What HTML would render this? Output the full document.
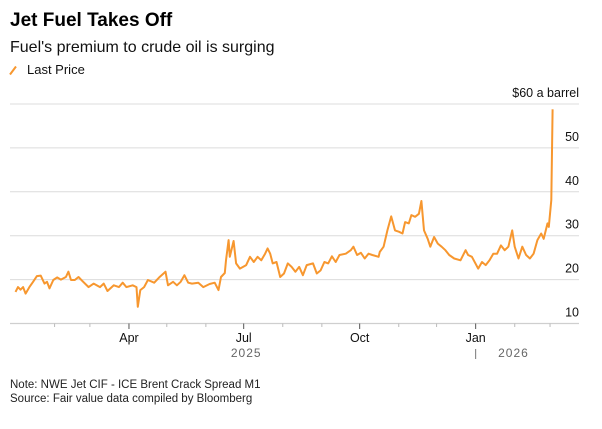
<!DOCTYPE html>
<html><head><meta charset="utf-8"><style>
html,body{margin:0;padding:0;background:#fff;}
body{width:602px;height:424px;overflow:hidden;font-family:"Liberation Sans",sans-serif;}
</style></head><body>
<svg width="602" height="424" viewBox="0 0 602 424" xmlns="http://www.w3.org/2000/svg" font-family="Liberation Sans, sans-serif">
<text x="10" y="26" font-size="19" font-weight="bold" fill="#000">Jet Fuel Takes Off</text>
<text x="10" y="52" font-size="16" fill="#111">Fuel's premium to crude oil is surging</text>
<line x1="10" y1="74.5" x2="16" y2="66.5" stroke="#f7972f" stroke-width="2"/>
<text x="27" y="74" font-size="13" fill="#111">Last Price</text>
<text x="579" y="97" font-size="12.5" text-anchor="end" fill="#111">$60 a barrel</text>
<g id="grid"></g>
<g id="axis"></g>
<path id="line" fill="none" stroke="#f7972f" stroke-width="2" stroke-linejoin="round"/>
<text x="10" y="388" font-size="11.5" fill="#222">Note: NWE Jet CIF - ICE Brent Crack Spread M1</text>
<text x="10" y="402" font-size="11.5" fill="#222">Source: Fair value data compiled by Bloomberg</text>
</svg>
<script>
const yTicks=[10,20,30,40,50,60];
const monthTicks=[31,59,90,120,151,181,212,243,273,304,334,365,396,424];
const majorTicks=[90,181,273,365];
const majorLabels=["Apr","Jul","Oct","Jan"];
const yearLabels=["2025","2026"];
const yearDays=[183,395];
const days=[0,2,4,6,8,11,14,17,20,23,25,27,30,33,36,40,42,44,47,50,53,58,62,67,70,73,78,82,85,88,93,96,97,99,102,105,110,114,119,121,125,128,131,134,137,140,145,149,154,158,161,163,166,167,169,170,173,175,178,183,186,189,192,195,198,200,202,204,207,210,213,216,219,222,225,228,231,236,239,242,245,248,251,254,257,262,266,268,271,274,277,280,283,288,289,292,295,298,301,304,307,309,312,314,317,320,322,324,327,329,332,335,338,341,344,348,353,357,359,362,367,370,373,376,379,382,385,388,391,394,396,399,402,405,408,411,414,417,419,422,423,425,426];
const prices=[17.2,18.3,17.7,18.3,16.8,18.3,19.5,20.8,20.9,19.1,19.5,18.0,19.9,20.5,20.0,20.6,21.8,19.9,19.9,20.6,19.7,18.3,19.1,18.3,19.1,17.4,18.7,18.3,19.3,18.3,18.7,18.3,13.8,17.6,18.3,19.9,19.3,20.5,21.8,18.7,19.5,18.7,19.5,21.0,19.3,19.1,19.3,18.3,19.0,19.3,17.6,20.6,21.5,24.4,29.0,25.2,28.8,23.7,22.5,23.3,25.2,24.0,25.2,24.4,25.9,27.1,25.9,23.7,24.0,20.6,21.4,23.7,22.9,21.8,22.9,21.0,23.3,23.7,21.4,22.1,24.0,23.7,25.3,24.0,25.6,25.9,26.7,27.5,25.6,26.1,24.8,25.9,25.6,25.2,26.3,27.5,31.2,34.4,31.2,30.9,30.5,33.1,32.8,34.7,34.3,35.0,37.9,31.2,29.3,27.5,29.7,28.2,27.5,26.7,25.6,24.8,24.4,26.7,25.6,25.2,22.5,24.0,23.3,24.4,25.9,25.9,27.8,26.7,27.5,31.2,27.5,24.8,27.5,25.6,24.8,25.9,29.0,30.5,29.3,32.8,32.0,38.1,58.8];
const NS="http://www.w3.org/2000/svg";
function x(d){return 15.5+d*1.2607;}
function y(v){return 323.5-(v-10)*4.39;}
function mk(tag,attrs,parent){const e=document.createElementNS(NS,tag);for(const k in attrs)e.setAttribute(k,attrs[k]);parent.appendChild(e);return e;}
const grid=document.getElementById('grid'),axis=document.getElementById('axis');
yTicks.forEach(v=>{
  const l=mk('line',{x1:10,x2:579,y1:y(v),y2:y(v),stroke:v===10?'#cfcfcf':'#dcdcdc','stroke-width':v===10?1.2:1},grid);
  
  
  if(v<60){const t=mk('text',{x:579,y:y(v)-7,'font-size':12.5,'text-anchor':'end',fill:'#111'},grid);t.textContent=v;
  
  }
});
monthTicks.forEach(d=>{
  const maj=majorTicks.includes(d);
  const l=mk('line',{x1:x(d),x2:x(d),y1:323.5,y2:maj?329:327,stroke:maj?'#555':'#bbb','stroke-width':1},axis);
  
  
});
majorTicks.forEach((d,i)=>{
  const t=mk('text',{x:x(d),y:342,'font-size':12.5,'text-anchor':'middle',fill:'#111'},axis);t.textContent=majorLabels[i];
  
  
});
yearLabels.forEach((s,i)=>{
  const t=mk('text',{x:x(yearDays[i]),y:357,'font-size':12,'text-anchor':'middle',fill:'#666','letter-spacing':'1'},axis);t.textContent=s;
  
  
});
const sep=mk('line',{x1:x(365),x2:x(365),y1:349,y2:359,stroke:'#777','stroke-width':1},axis);


document.getElementById('line').setAttribute('d',days.map((d,i)=>(i?'L':'M')+x(d).toFixed(1)+' '+y(prices[i]).toFixed(1)).join(' '));
</script>
</body></html>
